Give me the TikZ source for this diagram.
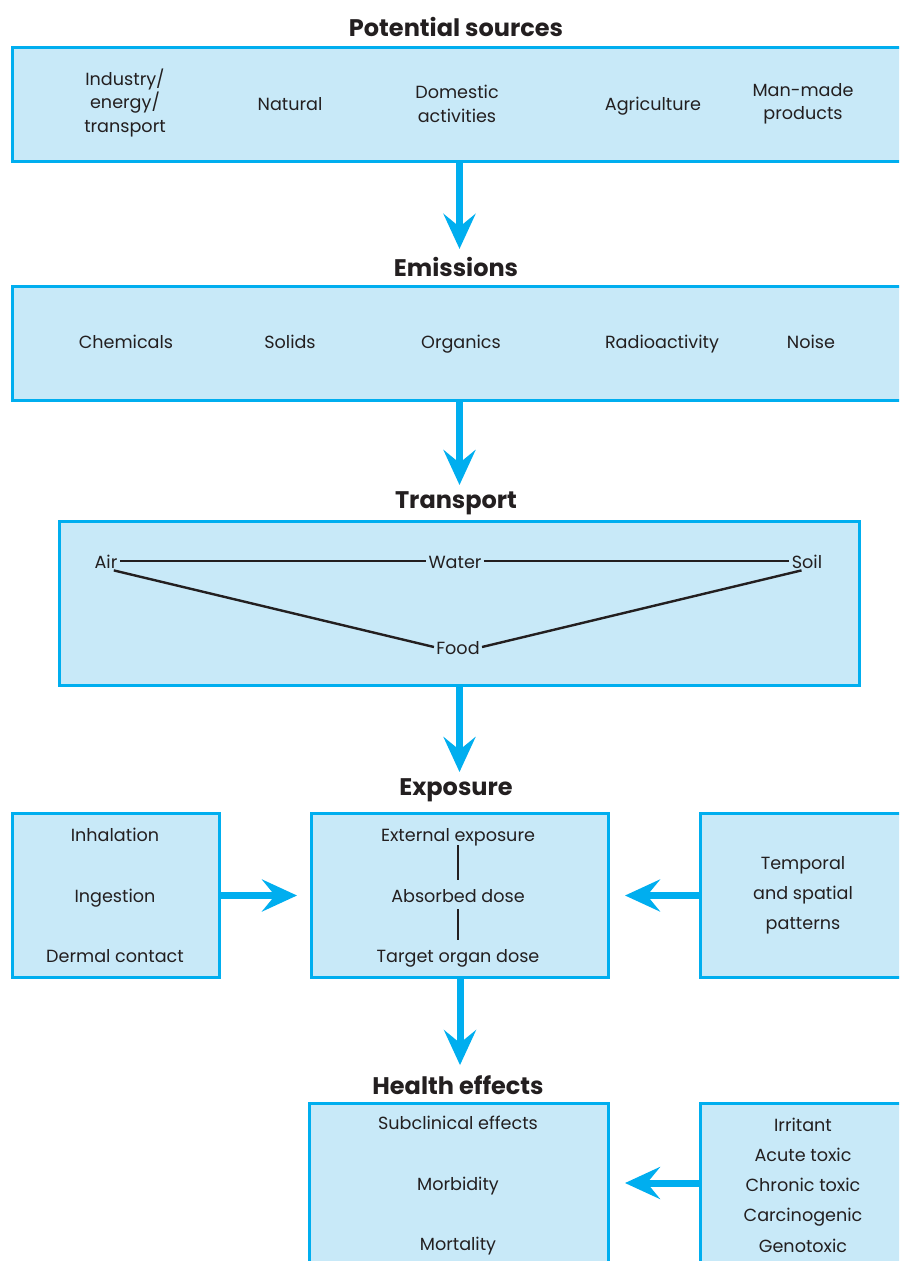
\documentclass[tikz,border=0pt]{standalone}
\usepackage{fontspec}
\setmainfont{Poppins}
\usepackage{xcolor}
\usetikzlibrary{arrows.meta, positioning}

\definecolor{panelfill}{HTML}{C8E9F8}
\definecolor{paneledge}{HTML}{00AEEF}
\definecolor{ink}{HTML}{231F20}

\begin{document}
\begin{tikzpicture}[x=0.5pt, y=-0.5pt,
    panel/.style={rectangle, draw=paneledge, fill=panelfill, line width=1.5pt, anchor=north west, inner sep=0pt},
    heading/.style={font=\fontsize{12}{14}\selectfont\bfseries, text=ink, inner sep=1pt},
    item/.style={font=\fontsize{8.8}{11.75}\selectfont, text=ink, align=center, inner sep=1pt},
    word/.style={item, text height=7pt, text depth=0pt},
    list/.style={item, font=\fontsize{8.8}{15.1}\selectfont},
    link/.style={draw=ink, line width=1.2pt},
    flow/.style={-{Stealth[length=17.5pt, width=16pt, inset=6.5pt]}, draw=paneledge, line width=3.5pt}]

    \clip (0,0) rectangle (899,1261);
    \fill[white] (0,0) rectangle (899,1261);

    % sources
    \node[heading] (srctitle) at (456,27) {Potential sources};
    \node[panel, minimum width=447pt, minimum height=57pt] (sources) at (11,46) {};
    \node[item] (industry) at (125,103) {Industry/\\energy/\\transport};
    \node[word] (natural) at (290,104) {Natural};
    \node[item] (domestic) at (457,104) {Domestic\\activities};
    \node[word] (agri) at (653,104) {Agriculture};
    \node[item] (manmade) at (803,104) {Man-made\\products};

    % emissions
    \node[heading] (emtitle) at (456,267) {Emissions};
    \node[panel, minimum width=447pt, minimum height=57pt] (emissions) at (11,285) {};
    \node[word] (chem) at (126,342) {Chemicals};
    \node[word] (solids) at (290,342) {Solids};
    \node[word] (organics) at (461,342) {Organics};
    \node[word] (radio) at (662,342) {Radioactivity};
    \node[word] (noise) at (811,342) {Noise};

    % transport
    \node[heading] (trtitle) at (456,503) {Transport};
    \node[panel, minimum width=400pt, minimum height=82pt] (transport) at (58,520) {};
    \node[word] (air) at (106,561) {Air};
    \node[word] (water) at (455,561) {Water};
    \node[word] (soil) at (807,561) {Soil};
    \node[word] (food) at (458,647) {Food};
    \draw[link] (air) -- (water);
    \draw[link] (water) -- (soil);
    \draw[link] ([xshift=-3pt]air.south east) -- (food.west);
    \draw[link] ([xshift=6pt]soil.south west) -- (food.east);

    % exposure
    \node[heading] (extitle) at (456,790) {Exposure};
    \node[panel, minimum width=103.5pt, minimum height=82pt] (route) at (11,812) {};
    \node[panel, minimum width=148.5pt, minimum height=82pt] (dose) at (310,812) {};
    \node[panel, minimum width=110pt, minimum height=82pt] (pattern) at (699,812) {};
    \node[word] (inhal) at (115,834) {Inhalation};
    \node[word] (ingest) at (115,895) {Ingestion};
    \node[word] (dermal) at (115,955) {Dermal contact};
    \node[word] (external) at (458,834) {External exposure};
    \node[word] (absorbed) at (458,895) {Absorbed dose};
    \node[word] (target) at (458,955) {Target organ dose};
    \node[list] (temporal) at (803,895) {Temporal\\and spatial\\patterns};
    \draw[link] ([yshift=-1pt]external.south) -- ([yshift=3pt]absorbed.north);
    \draw[link] ([yshift=-2.5pt]absorbed.south) -- ([yshift=3pt]target.north);

    % health effects
    \node[heading] (hetitle) at (458,1085) {Health effects};
    \node[panel, minimum width=149.5pt, minimum height=99pt] (effects) at (308,1102) {};
    \node[panel, minimum width=110pt, minimum height=99pt] (toxic) at (699,1102) {};
    \node[word] (subclin) at (458,1122) {Subclinical effects};
    \node[word] (morbid) at (458,1183) {Morbidity};
    \node[word] (mortal) at (458,1243) {Mortality};
    \node[list] (kinds) at (803,1185) {Irritant\\Acute toxic\\Chronic toxic\\Carcinogenic\\Genotoxic};

    % arrows
    \draw[flow, shorten >=3pt] (sources.south) -- (sources.south |- emtitle.north);
    \draw[flow, shorten >=2pt] (emissions.south) -- (emissions.south |- trtitle.north);
    \draw[flow, shorten >=2pt] (transport.south) -- (transport.south |- extitle.north);
    \draw[flow, shorten >=4pt] (dose.south) -- (dose.south |- hetitle.north);
    \draw[flow, shorten >=6.5pt] (route.east) -- (dose.west);
    \draw[flow, shorten >=7.5pt] (pattern.west) -- (dose.east);
    \draw[flow, shorten >=7.5pt] (toxic.west |- morbid) -- (morbid -| effects.east);
\end{tikzpicture}
\end{document}
